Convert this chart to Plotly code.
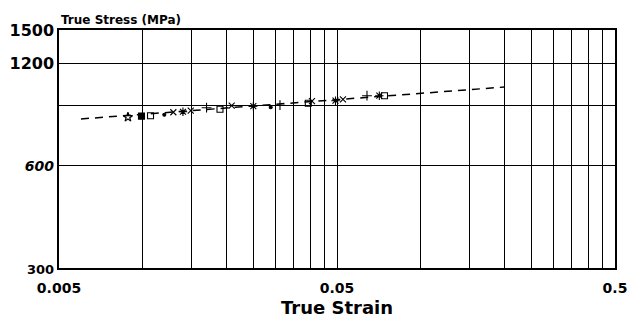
import plotly.graph_objects as go

# ---- data ----
star_strain = [0.00885]
star_stress = [832]
fsq_strain = [0.0099]
fsq_stress = [838]
osq_strain = [0.01067, 0.01897, 0.03942, 0.0741]
osq_stress = [840, 878, 914, 962]
dot_strain = [0.01196, 0.02887]
dot_stress = [846, 890]
x_strain = [0.01289, 0.01489, 0.0209, 0.04064, 0.05253]
x_stress = [860, 869, 899, 927, 939]
ast_strain = [0.01396, 0.025, 0.04938, 0.0710]
ast_stress = [863, 896, 930, 962]
plus_strain = [0.01697, 0.03118, 0.0641]
plus_stress = [887, 902, 962]

fit_strain = [0.006, 0.2]
fit_stress = [822, 1020]

x_grid = [0.005, 0.01, 0.015, 0.02, 0.025, 0.03, 0.035, 0.04, 0.045, 0.05,
          0.1, 0.15, 0.2, 0.25, 0.3, 0.35, 0.4, 0.45, 0.5]
x_labels = {0.005: "0.005", 0.05: "0.05", 0.5: "0.5"}
y_grid = [300, 600, 900, 1200, 1500]
y_labels = {300: "<span style='font-size:13px'>300</span>",
            600: "<span style='font-size:14px'><i>600</i></span>",
            1200: "1200", 1500: "1500"}

FONT = "DejaVu Sans, Arial, sans-serif"

fig = go.Figure()
fig.add_trace(go.Scatter(x=fit_strain, y=fit_stress, mode="lines",
                         line=dict(color="black", width=1.5, dash="8px,6px"),
                         showlegend=False))

def add(xs, ys, sym, size=7, lw=1.1):
    fig.add_trace(go.Scatter(x=xs, y=ys, mode="markers", showlegend=False,
                             marker=dict(symbol=sym, size=size, color="black",
                                         line=dict(color="black", width=lw))))

add(star_strain, star_stress, "star-open", 7, 1.2)
add(fsq_strain, fsq_stress, "square", 6)
add(osq_strain, osq_stress, "square-open", 6)
add(dot_strain, dot_stress, "circle", 3)
add(x_strain, x_stress, "x-thin", 6)
add(ast_strain, ast_stress, "asterisk", 7)
add(plus_strain, plus_stress, "cross-thin", 7)

fig.update_xaxes(type="log", range=[-2.30103, -0.30103],
                 tickmode="array", tickvals=x_grid,
                 ticktext=[x_labels.get(v, "") for v in x_grid],
                 showgrid=True, gridcolor="black", gridwidth=1,
                 showline=True, linecolor="black", linewidth=1.5, mirror=True,
                 ticks="", zeroline=False, automargin=False, ticklabelstandoff=6,
                 tickfont=dict(family=FONT, size=14, color="black", weight="bold"))
fig.update_yaxes(type="log", range=[2.4771213, 3.1760913],
                 tickmode="array", tickvals=y_grid,
                 ticktext=[y_labels.get(v, "") for v in y_grid],
                 showgrid=True, gridcolor="black", gridwidth=1,
                 showline=True, linecolor="black", linewidth=1.5, mirror=True,
                 ticks="", zeroline=False, automargin=False,
                 tickfont=dict(family=FONT, size=16, color="black", weight="bold"))

fig.add_annotation(text="True Stress (MPa)", xref="paper", yref="paper",
                   x=0, y=1, xanchor="left", yanchor="bottom", yshift=1,
                   showarrow=False,
                   font=dict(family=FONT, size=12, color="black", weight="bold"))
fig.add_annotation(text="True Strain", xref="paper", yref="paper",
                   x=0.5, y=0, xanchor="center", yanchor="top", yshift=-27,
                   showarrow=False,
                   font=dict(family=FONT, size=18, color="black", weight="bold"))

fig.update_layout(width=630, height=324,
                  margin=dict(l=59, r=15, t=30, b=56),
                  paper_bgcolor="white", plot_bgcolor="white")

fig.write_html("out.html")
